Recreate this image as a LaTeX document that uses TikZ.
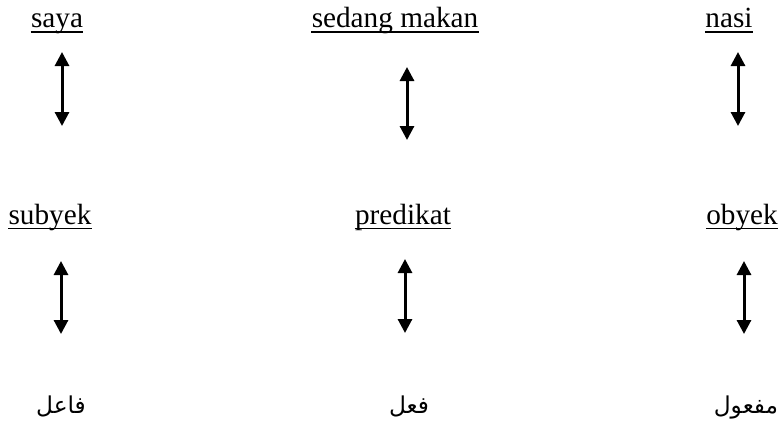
\documentclass[tikz,border=0pt]{standalone}
\usepackage{fontspec}
\setmainfont{Liberation Serif}
\newfontfamily\arabicfont[Script=Arabic]{DejaVu Sans}
\TeXXeTstate=1
\usetikzlibrary{arrows.meta}
\begin{document}
\begin{tikzpicture}[x=0.4pt,y=-0.4pt,
  lbl/.style={inner sep=0pt, anchor=base, font=\fontsize{11.7}{14}\selectfont},
  artext/.style={inner sep=0pt, anchor=base, font=\arabicfont\fontsize{9.3}{12}\selectfont},
  dbl/.style={line width=1.2pt, {Triangle[width=5.6pt,length=5.6pt]}-{Triangle[width=5.6pt,length=5.6pt]}},
  ul/.style={line width=0.55pt}]
\useasboundingbox (0,0) rectangle (781,423);
% row 1
\node[lbl] (saya) at (57,27.5) {saya};
\node[lbl] (sedang) at (395,27.5) {sedang makan};
\node[lbl] (nasi) at (729,27.5) {nasi};
% row 2
\node[lbl] (subyek) at (50,224) {subyek};
\node[lbl] (predikat) at (403,224) {predikat};
\node[lbl] (obyek) at (742,224) {obyek};
% row 3
\node[artext] (faail) at (61,413) {\beginR فاعل\endR};
\node[artext] (fiil) at (409,413) {\beginR فعل\endR};
\node[artext] (mafuul) at (746,413) {\beginR مفعول\endR};
% underlines
\foreach \n in {saya,sedang,nasi,subyek,predikat,obyek}
  \draw[ul] ([yshift=-1.8pt]\n.base west) -- ([yshift=-1.8pt]\n.base east);
% arrow ends
\coordinate (a1t) at (62,52);  \coordinate (a1b) at (62,126);
\coordinate (a2t) at (407,67); \coordinate (a2b) at (407,140);
\coordinate (a3t) at (738,52); \coordinate (a3b) at (738,126);
\coordinate (b1t) at (61,261); \coordinate (b1b) at (61,334);
\coordinate (b2t) at (405,259); \coordinate (b2b) at (405,333);
\coordinate (b3t) at (744,261); \coordinate (b3b) at (744,334);
\foreach \p in {a1,a2,a3,b1,b2,b3}
  \draw[dbl] (\p t) -- (\p b);
\end{tikzpicture}
\end{document}
